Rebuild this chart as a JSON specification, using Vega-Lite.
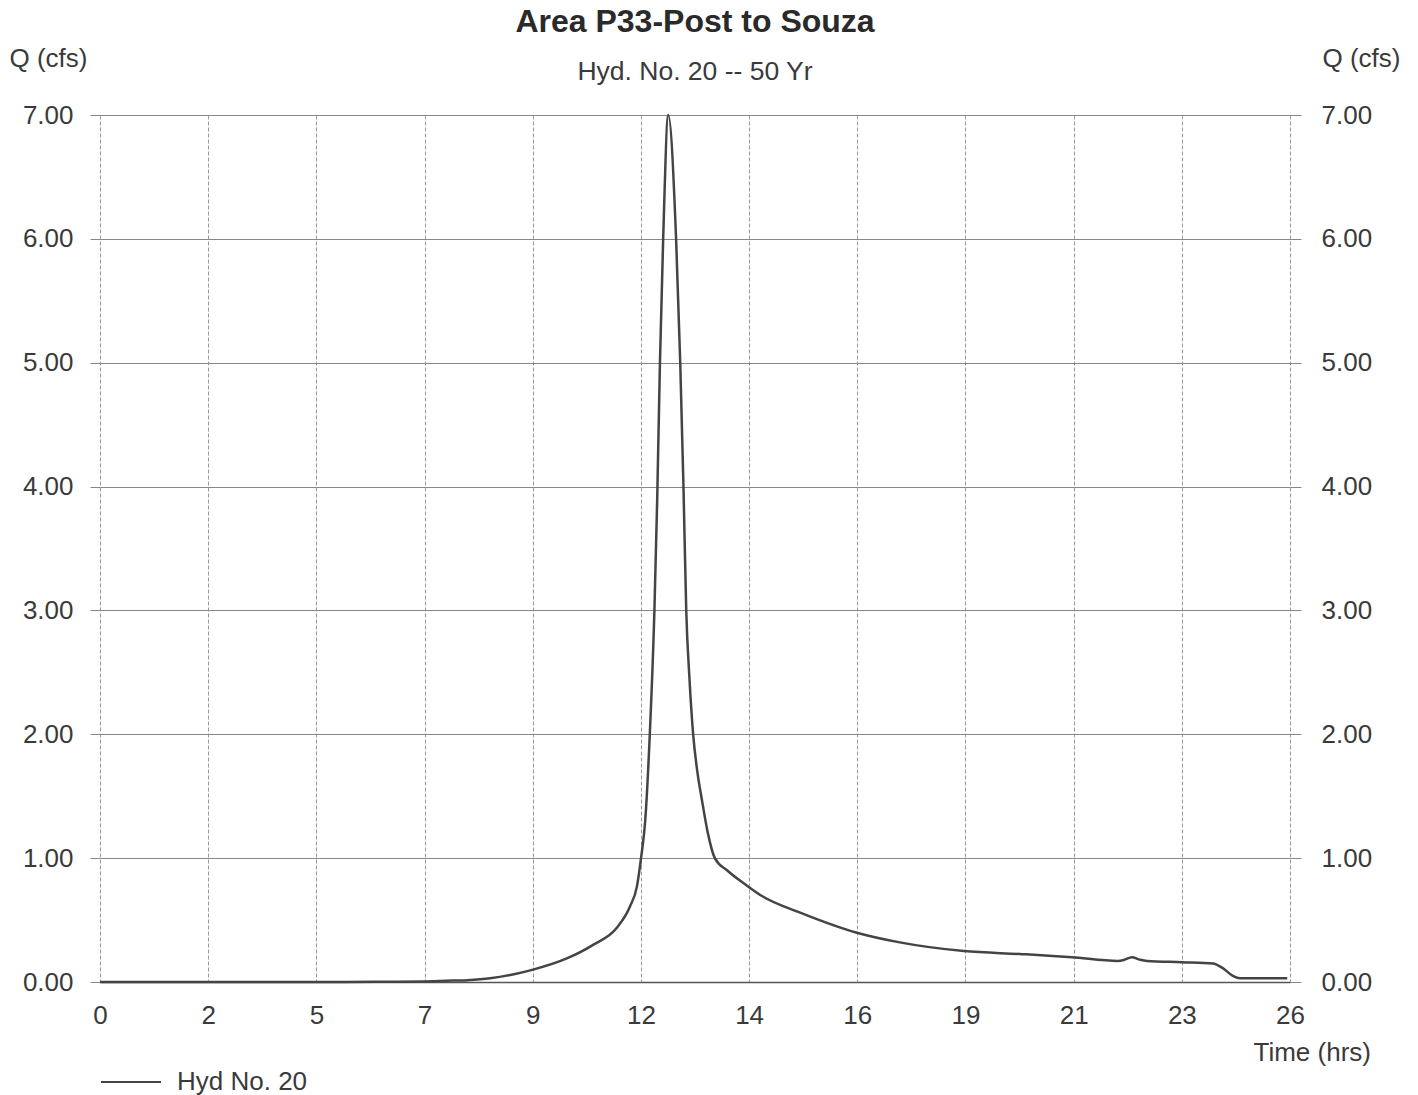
{
  "$schema": "https://vega.github.io/schema/vega-lite/v6.json",
  "autosize": {"type": "none"},
  "padding": {"left": 100, "top": 115, "right": 128, "bottom": 113},
  "width": 1190,
  "height": 867,
  "background": "white",
  "title": {
    "text": "Area P33-Post to Souza",
    "subtitle": "Hyd. No. 20 -- 50 Yr",
    "anchor": "middle",
    "frame": "group",
    "font": "Liberation Sans",
    "fontSize": 32,
    "fontWeight": "bold",
    "color": "#2a2a2a",
    "subtitleFont": "Liberation Sans",
    "subtitleFontSize": 26.5,
    "subtitleColor": "#3a3a3a",
    "subtitlePadding": 20,
    "offset": -41
  },
  "config": {
    "view": {"stroke": null},
    "font": "Liberation Sans",
    "axis": {
      "labelFont": "Liberation Sans",
      "labelFontSize": 26,
      "labelColor": "#3a3a3a",
      "titleFont": "Liberation Sans",
      "titleFontSize": 26,
      "titleFontWeight": "normal",
      "titleColor": "#3a3a3a"
    }
  },
  "data": {
    "values": [
      {"t": 0, "q": 0, "s": "Hyd No. 20"},
      {"t": 2, "q": 0, "s": "Hyd No. 20"},
      {"t": 4, "q": 0, "s": "Hyd No. 20"},
      {"t": 6, "q": 0.002, "s": "Hyd No. 20"},
      {"t": 7, "q": 0.005, "s": "Hyd No. 20"},
      {"t": 7.5, "q": 0.01, "s": "Hyd No. 20"},
      {"t": 7.96, "q": 0.015, "s": "Hyd No. 20"},
      {"t": 8.46, "q": 0.03, "s": "Hyd No. 20"},
      {"t": 9.0, "q": 0.065, "s": "Hyd No. 20"},
      {"t": 9.39, "q": 0.1, "s": "Hyd No. 20"},
      {"t": 10.12, "q": 0.19, "s": "Hyd No. 20"},
      {"t": 10.69, "q": 0.3, "s": "Hyd No. 20"},
      {"t": 11.21, "q": 0.44, "s": "Hyd No. 20"},
      {"t": 11.49, "q": 0.61, "s": "Hyd No. 20"},
      {"t": 11.64, "q": 0.77, "s": "Hyd No. 20"},
      {"t": 11.73, "q": 1.0, "s": "Hyd No. 20"},
      {"t": 11.82, "q": 1.3, "s": "Hyd No. 20"},
      {"t": 11.92, "q": 2.0, "s": "Hyd No. 20"},
      {"t": 12.02, "q": 3.0, "s": "Hyd No. 20"},
      {"t": 12.08, "q": 3.89, "s": "Hyd No. 20"},
      {"t": 12.14, "q": 5.0, "s": "Hyd No. 20"},
      {"t": 12.21, "q": 6.0, "s": "Hyd No. 20"},
      {"t": 12.32, "q": 7.0, "s": "Hyd No. 20"},
      {"t": 12.49, "q": 6.0, "s": "Hyd No. 20"},
      {"t": 12.58, "q": 5.0, "s": "Hyd No. 20"},
      {"t": 12.65, "q": 4.0, "s": "Hyd No. 20"},
      {"t": 12.71, "q": 3.0, "s": "Hyd No. 20"},
      {"t": 12.78, "q": 2.45, "s": "Hyd No. 20"},
      {"t": 12.86, "q": 2.0, "s": "Hyd No. 20"},
      {"t": 12.95, "q": 1.7, "s": "Hyd No. 20"},
      {"t": 13.05, "q": 1.47, "s": "Hyd No. 20"},
      {"t": 13.18, "q": 1.2, "s": "Hyd No. 20"},
      {"t": 13.33, "q": 1.0, "s": "Hyd No. 20"},
      {"t": 13.6, "q": 0.9, "s": "Hyd No. 20"},
      {"t": 14.02, "q": 0.78, "s": "Hyd No. 20"},
      {"t": 14.37, "q": 0.69, "s": "Hyd No. 20"},
      {"t": 15.18, "q": 0.56, "s": "Hyd No. 20"},
      {"t": 16.39, "q": 0.4, "s": "Hyd No. 20"},
      {"t": 17.34, "q": 0.32, "s": "Hyd No. 20"},
      {"t": 18.73, "q": 0.25, "s": "Hyd No. 20"},
      {"t": 20.0, "q": 0.225, "s": "Hyd No. 20"},
      {"t": 21.07, "q": 0.2, "s": "Hyd No. 20"},
      {"t": 22.07, "q": 0.17, "s": "Hyd No. 20"},
      {"t": 22.2, "q": 0.178, "s": "Hyd No. 20"},
      {"t": 22.37, "q": 0.2, "s": "Hyd No. 20"},
      {"t": 22.55, "q": 0.18, "s": "Hyd No. 20"},
      {"t": 22.7, "q": 0.17, "s": "Hyd No. 20"},
      {"t": 23.46, "q": 0.16, "s": "Hyd No. 20"},
      {"t": 24.13, "q": 0.15, "s": "Hyd No. 20"},
      {"t": 24.35, "q": 0.11, "s": "Hyd No. 20"},
      {"t": 24.56, "q": 0.05, "s": "Hyd No. 20"},
      {"t": 24.72, "q": 0.03, "s": "Hyd No. 20"},
      {"t": 25.74, "q": 0.03, "s": "Hyd No. 20"}
    ]
  },
  "encoding": {
    "x": {
      "field": "t",
      "type": "quantitative",
      "scale": {"domain": [0, 25.8], "nice": false, "zero": false},
      "axis": {
        "values": [0, 2.345, 4.691, 7.036, 9.382, 11.727, 14.073, 16.418, 18.764, 21.109, 23.455, 25.8],
        "format": ".0f",
        "title": "Time (hrs)",
        "titleAngle": 0,
        "titleAlign": "left",
        "titleBaseline": "middle",
        "titleX": 1153,
        "titleY": 70,
        "ticks": false,
        "labelPadding": 20,
        "labelFlush": false,
        "labelOverlap": false,
        "labelBound": false,
        "domain": true,
        "domainColor": "#555555",
        "domainWidth": 1.5,
        "grid": true,
        "gridColor": "#9a9a9a",
        "gridWidth": 1,
        "gridDash": [4, 2]
      }
    }
  },
  "layer": [
    {
      "mark": {"type": "line", "strokeWidth": 2.5, "interpolate": "monotone"},
      "encoding": {
        "y": {
          "field": "q",
          "type": "quantitative",
          "scale": {"domain": [0, 7], "nice": false},
          "axis": {
            "orient": "left",
            "values": [0, 1, 2, 3, 4, 5, 6, 7],
            "format": ".2f",
            "title": "Q (cfs)",
            "titleAngle": 0,
            "titleAlign": "left",
            "titleBaseline": "middle",
            "titleX": -91,
            "titleY": -57,
            "domain": false,
            "ticks": true,
            "tickSize": 10,
            "tickColor": "#888888",
            "labelPadding": 17,
            "grid": true,
            "gridColor": "#888888",
            "gridWidth": 1
          }
        },
        "color": {
          "field": "s",
          "type": "nominal",
          "scale": {"domain": ["Hyd No. 20"], "range": ["#444444"]},
          "legend": {
            "title": null,
            "orient": "none",
            "legendX": 0,
            "legendY": 936,
            "padding": 0,
            "symbolType": "stroke",
            "symbolSize": 3600,
            "symbolStrokeWidth": 2,
            "labelFont": "Liberation Sans",
            "labelFontSize": 26,
            "labelColor": "#3a3a3a",
            "labelOffset": 15
          }
        }
      }
    },
    {
      "mark": {"type": "line", "strokeOpacity": 0, "interpolate": "monotone"},
      "encoding": {
        "y": {
          "field": "q",
          "type": "quantitative",
          "scale": {"domain": [0, 7], "nice": false},
          "axis": {
            "orient": "right",
            "values": [0, 1, 2, 3, 4, 5, 6, 7],
            "format": ".2f",
            "title": "Q (cfs)",
            "titleAngle": 0,
            "titleAlign": "left",
            "titleBaseline": "middle",
            "titleX": 32,
            "titleY": -57,
            "domain": false,
            "ticks": true,
            "tickSize": 11,
            "tickColor": "#888888",
            "labelPadding": 20,
            "grid": false
          }
        }
      }
    }
  ],
  "resolve": {"axis": {"y": "independent"}}
}
